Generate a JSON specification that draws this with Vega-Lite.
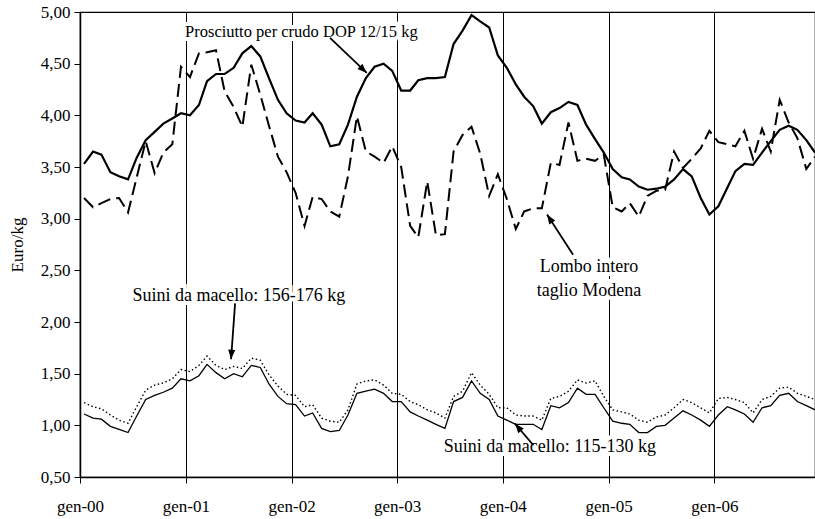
{
  "$schema": "https://vega.github.io/schema/vega-lite/v6.json",
  "width": 735,
  "height": 465,
  "autosize": {"type": "none"},
  "padding": {"left": 80, "top": 12, "right": 0, "bottom": 42},
  "background": "white",
  "view": {"stroke": "black", "strokeWidth": 1.2, "fill": "white"},
  "config": {
    "font": "Liberation Serif",
    "view": {"stroke": "black", "strokeWidth": 1.2},
    "axis": {
      "domainColor": "black", "tickColor": "black", "labelColor": "black", "titleColor": "black",
      "labelFont": "Liberation Serif", "titleFont": "Liberation Serif",
      "labelFontSize": 17, "titleFontSize": 17, "titleFontWeight": "normal",
      "tickSize": 6, "domainWidth": 1.5, "tickWidth": 1
    },
    "axisX": {"grid": true, "gridColor": "black", "gridWidth": 1, "gridOpacity": 1, "labelPadding": 15, "labelFlush": false, "labelOverlap": false},
    "axisY": {"grid": false, "labelPadding": 4, "titlePadding": 14}
  },
  "datasets": {
    "serie": [
      {"mese": "2000-01-15", "prosciutto": 3.53, "lombo": 3.20, "suini156": 1.22, "suini115": 1.11},
      {"mese": "2000-02-15", "prosciutto": 3.65, "lombo": 3.11, "suini156": 1.18, "suini115": 1.07},
      {"mese": "2000-03-15", "prosciutto": 3.62, "lombo": 3.15, "suini156": 1.16, "suini115": 1.06},
      {"mese": "2000-04-15", "prosciutto": 3.45, "lombo": 3.19, "suini156": 1.10, "suini115": 0.99},
      {"mese": "2000-05-15", "prosciutto": 3.41, "lombo": 3.20, "suini156": 1.05, "suini115": 0.96},
      {"mese": "2000-06-15", "prosciutto": 3.38, "lombo": 3.06, "suini156": 1.02, "suini115": 0.93},
      {"mese": "2000-07-15", "prosciutto": 3.59, "lombo": 3.40, "suini156": 1.18, "suini115": 1.09},
      {"mese": "2000-08-15", "prosciutto": 3.76, "lombo": 3.75, "suini156": 1.34, "suini115": 1.25},
      {"mese": "2000-09-15", "prosciutto": 3.84, "lombo": 3.44, "suini156": 1.39, "suini115": 1.29},
      {"mese": "2000-10-15", "prosciutto": 3.92, "lombo": 3.64, "suini156": 1.41, "suini115": 1.32},
      {"mese": "2000-11-15", "prosciutto": 3.97, "lombo": 3.72, "suini156": 1.45, "suini115": 1.36},
      {"mese": "2000-12-15", "prosciutto": 4.02, "lombo": 4.47, "suini156": 1.54, "suini115": 1.45},
      {"mese": "2001-01-15", "prosciutto": 4.00, "lombo": 4.37, "suini156": 1.52, "suini115": 1.43},
      {"mese": "2001-02-15", "prosciutto": 4.10, "lombo": 4.60, "suini156": 1.58, "suini115": 1.48},
      {"mese": "2001-03-15", "prosciutto": 4.33, "lombo": 4.61, "suini156": 1.67, "suini115": 1.59},
      {"mese": "2001-04-15", "prosciutto": 4.40, "lombo": 4.63, "suini156": 1.58, "suini115": 1.51},
      {"mese": "2001-05-15", "prosciutto": 4.40, "lombo": 4.23, "suini156": 1.54, "suini115": 1.45},
      {"mese": "2001-06-15", "prosciutto": 4.46, "lombo": 4.08, "suini156": 1.57, "suini115": 1.50},
      {"mese": "2001-07-15", "prosciutto": 4.60, "lombo": 3.89, "suini156": 1.55, "suini115": 1.47},
      {"mese": "2001-08-15", "prosciutto": 4.67, "lombo": 4.49, "suini156": 1.65, "suini115": 1.58},
      {"mese": "2001-09-15", "prosciutto": 4.57, "lombo": 4.20, "suini156": 1.63, "suini115": 1.56},
      {"mese": "2001-10-15", "prosciutto": 4.36, "lombo": 3.90, "suini156": 1.49, "suini115": 1.40},
      {"mese": "2001-11-15", "prosciutto": 4.15, "lombo": 3.60, "suini156": 1.38, "suini115": 1.28},
      {"mese": "2001-12-15", "prosciutto": 4.02, "lombo": 3.45, "suini156": 1.30, "suini115": 1.21},
      {"mese": "2002-01-15", "prosciutto": 3.95, "lombo": 3.25, "suini156": 1.29, "suini115": 1.20},
      {"mese": "2002-02-15", "prosciutto": 3.93, "lombo": 2.93, "suini156": 1.18, "suini115": 1.09},
      {"mese": "2002-03-15", "prosciutto": 4.02, "lombo": 3.21, "suini156": 1.20, "suini115": 1.12},
      {"mese": "2002-04-15", "prosciutto": 3.91, "lombo": 3.19, "suini156": 1.07, "suini115": 0.97},
      {"mese": "2002-05-15", "prosciutto": 3.70, "lombo": 3.07, "suini156": 1.04, "suini115": 0.94},
      {"mese": "2002-06-15", "prosciutto": 3.72, "lombo": 3.02, "suini156": 1.03, "suini115": 0.95},
      {"mese": "2002-07-15", "prosciutto": 3.91, "lombo": 3.41, "suini156": 1.15, "suini115": 1.10},
      {"mese": "2002-08-15", "prosciutto": 4.18, "lombo": 3.99, "suini156": 1.40, "suini115": 1.31},
      {"mese": "2002-09-15", "prosciutto": 4.36, "lombo": 3.65, "suini156": 1.43, "suini115": 1.33},
      {"mese": "2002-10-15", "prosciutto": 4.47, "lombo": 3.60, "suini156": 1.44, "suini115": 1.35},
      {"mese": "2002-11-15", "prosciutto": 4.50, "lombo": 3.54, "suini156": 1.39, "suini115": 1.31},
      {"mese": "2002-12-15", "prosciutto": 4.43, "lombo": 3.70, "suini156": 1.31, "suini115": 1.23},
      {"mese": "2003-01-15", "prosciutto": 4.24, "lombo": 3.50, "suini156": 1.30, "suini115": 1.23},
      {"mese": "2003-02-15", "prosciutto": 4.24, "lombo": 2.93, "suini156": 1.23, "suini115": 1.13},
      {"mese": "2003-03-15", "prosciutto": 4.34, "lombo": 2.82, "suini156": 1.20, "suini115": 1.09},
      {"mese": "2003-04-15", "prosciutto": 4.36, "lombo": 3.36, "suini156": 1.15, "suini115": 1.05},
      {"mese": "2003-05-15", "prosciutto": 4.36, "lombo": 2.84, "suini156": 1.12, "suini115": 1.01},
      {"mese": "2003-06-15", "prosciutto": 4.37, "lombo": 2.85, "suini156": 1.07, "suini115": 0.97},
      {"mese": "2003-07-15", "prosciutto": 4.69, "lombo": 3.65, "suini156": 1.28, "suini115": 1.23},
      {"mese": "2003-08-15", "prosciutto": 4.82, "lombo": 3.81, "suini156": 1.33, "suini115": 1.27},
      {"mese": "2003-09-15", "prosciutto": 4.97, "lombo": 3.89, "suini156": 1.51, "suini115": 1.43},
      {"mese": "2003-10-15", "prosciutto": 4.91, "lombo": 3.63, "suini156": 1.39, "suini115": 1.31},
      {"mese": "2003-11-15", "prosciutto": 4.85, "lombo": 3.22, "suini156": 1.30, "suini115": 1.25},
      {"mese": "2003-12-15", "prosciutto": 4.58, "lombo": 3.43, "suini156": 1.17, "suini115": 1.09},
      {"mese": "2004-01-15", "prosciutto": 4.46, "lombo": 3.19, "suini156": 1.17, "suini115": 1.05},
      {"mese": "2004-02-15", "prosciutto": 4.30, "lombo": 2.90, "suini156": 1.10, "suini115": 1.01},
      {"mese": "2004-03-15", "prosciutto": 4.18, "lombo": 3.07, "suini156": 1.09, "suini115": 1.01},
      {"mese": "2004-04-15", "prosciutto": 4.09, "lombo": 3.10, "suini156": 1.09, "suini115": 1.01},
      {"mese": "2004-05-15", "prosciutto": 3.92, "lombo": 3.10, "suini156": 1.05, "suini115": 0.96},
      {"mese": "2004-06-15", "prosciutto": 4.03, "lombo": 3.54, "suini156": 1.26, "suini115": 1.19},
      {"mese": "2004-07-15", "prosciutto": 4.07, "lombo": 3.52, "suini156": 1.28, "suini115": 1.17},
      {"mese": "2004-08-15", "prosciutto": 4.13, "lombo": 3.93, "suini156": 1.33, "suini115": 1.22},
      {"mese": "2004-09-15", "prosciutto": 4.10, "lombo": 3.56, "suini156": 1.44, "suini115": 1.36},
      {"mese": "2004-10-15", "prosciutto": 3.91, "lombo": 3.58, "suini156": 1.41, "suini115": 1.30},
      {"mese": "2004-11-15", "prosciutto": 3.77, "lombo": 3.56, "suini156": 1.43, "suini115": 1.30},
      {"mese": "2004-12-15", "prosciutto": 3.64, "lombo": 3.62, "suini156": 1.28, "suini115": 1.17},
      {"mese": "2005-01-15", "prosciutto": 3.48, "lombo": 3.11, "suini156": 1.15, "suini115": 1.04},
      {"mese": "2005-02-15", "prosciutto": 3.40, "lombo": 3.07, "suini156": 1.13, "suini115": 1.02},
      {"mese": "2005-03-15", "prosciutto": 3.38, "lombo": 3.15, "suini156": 1.11, "suini115": 1.01},
      {"mese": "2005-04-15", "prosciutto": 3.31, "lombo": 3.02, "suini156": 1.05, "suini115": 0.93},
      {"mese": "2005-05-15", "prosciutto": 3.28, "lombo": 3.22, "suini156": 1.03, "suini115": 0.93},
      {"mese": "2005-06-15", "prosciutto": 3.29, "lombo": 3.27, "suini156": 1.08, "suini115": 0.99},
      {"mese": "2005-07-15", "prosciutto": 3.31, "lombo": 3.28, "suini156": 1.10, "suini115": 1.00},
      {"mese": "2005-08-15", "prosciutto": 3.38, "lombo": 3.65, "suini156": 1.17, "suini115": 1.07},
      {"mese": "2005-09-15", "prosciutto": 3.48, "lombo": 3.49, "suini156": 1.25, "suini115": 1.14},
      {"mese": "2005-10-15", "prosciutto": 3.41, "lombo": 3.58, "suini156": 1.22, "suini115": 1.10},
      {"mese": "2005-11-15", "prosciutto": 3.20, "lombo": 3.68, "suini156": 1.17, "suini115": 1.05},
      {"mese": "2005-12-15", "prosciutto": 3.04, "lombo": 3.85, "suini156": 1.12, "suini115": 0.99},
      {"mese": "2006-01-15", "prosciutto": 3.12, "lombo": 3.74, "suini156": 1.26, "suini115": 1.10},
      {"mese": "2006-02-15", "prosciutto": 3.30, "lombo": 3.72, "suini156": 1.27, "suini115": 1.18},
      {"mese": "2006-03-15", "prosciutto": 3.46, "lombo": 3.70, "suini156": 1.25, "suini115": 1.15},
      {"mese": "2006-04-15", "prosciutto": 3.53, "lombo": 3.85, "suini156": 1.22, "suini115": 1.11},
      {"mese": "2006-05-15", "prosciutto": 3.52, "lombo": 3.58, "suini156": 1.12, "suini115": 1.03},
      {"mese": "2006-06-15", "prosciutto": 3.64, "lombo": 3.87, "suini156": 1.25, "suini115": 1.17},
      {"mese": "2006-07-15", "prosciutto": 3.75, "lombo": 3.65, "suini156": 1.28, "suini115": 1.19},
      {"mese": "2006-08-15", "prosciutto": 3.86, "lombo": 4.15, "suini156": 1.36, "suini115": 1.29},
      {"mese": "2006-09-15", "prosciutto": 3.90, "lombo": 3.93, "suini156": 1.37, "suini115": 1.31},
      {"mese": "2006-10-15", "prosciutto": 3.86, "lombo": 3.78, "suini156": 1.31, "suini115": 1.23},
      {"mese": "2006-11-15", "prosciutto": 3.76, "lombo": 3.48, "suini156": 1.28, "suini115": 1.19},
      {"mese": "2006-12-15", "prosciutto": 3.64, "lombo": 3.60, "suini156": 1.25, "suini115": 1.15}
    ],
    "note": [
      {"mese": "2002-02-04", "v": 4.81, "testo": "Prosciutto per crudo DOP 12/15 kg"},
      {"mese": "2004-10-25", "v": 2.53, "testo": "Lombo intero"},
      {"mese": "2004-10-25", "v": 2.30, "testo": "taglio Modena"},
      {"mese": "2001-07-03", "v": 2.25, "testo": "Suini da macello: 156-176 kg"},
      {"mese": "2004-06-12", "v": 0.79, "testo": "Suini da macello: 115-130 kg"}
    ],
    "frecce": [
      {"freccia": "prosciutto", "mese": "2002-05-14", "v": 4.75, "mese2": "2002-09-18", "v2": 4.41},
      {"freccia": "lombo", "mese": "2004-08-31", "v": 2.65, "mese2": "2004-06-02", "v2": 3.04},
      {"freccia": "suini156", "mese": "2001-06-20", "v": 2.18, "mese2": "2001-06-06", "v2": 1.64},
      {"freccia": "suini115", "mese": "2004-04-16", "v": 0.807, "mese2": "2004-02-12", "v2": 1.017}
    ]
  },
  "data": {"name": "serie"},
  "encoding": {
    "x": {
      "field": "mese", "type": "temporal",
      "scale": {"type": "utc", "domain": [{"year": 2000, "month": 1, "date": 1, "utc": true}, {"year": 2006, "month": 12, "date": 15, "utc": true}]},
      "axis": {
        "title": null,
        "values": [
          {"year": 2000, "month": 1, "date": 1, "utc": true},
          {"year": 2001, "month": 1, "date": 1, "utc": true},
          {"year": 2002, "month": 1, "date": 1, "utc": true},
          {"year": 2003, "month": 1, "date": 1, "utc": true},
          {"year": 2004, "month": 1, "date": 1, "utc": true},
          {"year": 2005, "month": 1, "date": 1, "utc": true},
          {"year": 2006, "month": 1, "date": 1, "utc": true}
        ],
        "labelExpr": "'gen-' + utcFormat(datum.value, '%y')"
      }
    }
  },
  "layer": [
    {
      "mark": {"type": "line", "color": "black", "strokeWidth": 1.3},
      "encoding": {
        "y": {
          "field": "suini115", "type": "quantitative", "title": "Euro/kg",
          "scale": {"domain": [0.5, 5]},
          "axis": {"title": "Euro/kg", "values": [0.5, 1, 1.5, 2, 2.5, 3, 3.5, 4, 4.5, 5], "labelExpr": "replace(format(datum.value, '.2f'), '.', ',')"}
        }
      }
    },
    {
      "mark": {"type": "line", "color": "black", "strokeWidth": 1.4, "strokeDash": [1.5, 2.5]},
      "encoding": {"y": {"field": "suini156", "type": "quantitative", "title": "Euro/kg", "scale": {"domain": [0.5, 5]},
        "axis": {"title": "Euro/kg", "values": [0.5, 1, 1.5, 2, 2.5, 3, 3.5, 4, 4.5, 5], "labelExpr": "replace(format(datum.value, '.2f'), '.', ',')"}}}
    },
    {
      "mark": {"type": "line", "color": "black", "strokeWidth": 2, "strokeDash": [13, 6]},
      "encoding": {"y": {"field": "lombo", "type": "quantitative", "title": "Euro/kg", "scale": {"domain": [0.5, 5]},
        "axis": {"title": "Euro/kg", "values": [0.5, 1, 1.5, 2, 2.5, 3, 3.5, 4, 4.5, 5], "labelExpr": "replace(format(datum.value, '.2f'), '.', ',')"}}}
    },
    {
      "mark": {"type": "line", "color": "black", "strokeWidth": 2.2},
      "encoding": {"y": {"field": "prosciutto", "type": "quantitative", "title": "Euro/kg", "scale": {"domain": [0.5, 5]},
        "axis": {"title": "Euro/kg", "values": [0.5, 1, 1.5, 2, 2.5, 3, 3.5, 4, 4.5, 5], "labelExpr": "replace(format(datum.value, '.2f'), '.', ',')"}}}
    },
    {
      "data": {"name": "note", "format": {"parse": {"mese": "date"}}},
      "transform": [{"filter": "datum.testo !== 'Prosciutto per crudo DOP 12/15 kg'"}],
      "mark": {"type": "text", "font": "Liberation Serif", "fontSize": 18, "align": "center", "baseline": "middle", "stroke": "white", "strokeWidth": 8, "fill": "white"},
      "encoding": {"y": {"field": "v", "type": "quantitative", "title": "Euro/kg", "scale": {"domain": [0.5, 5]},
        "axis": {"title": "Euro/kg", "values": [0.5, 1, 1.5, 2, 2.5, 3, 3.5, 4, 4.5, 5], "labelExpr": "replace(format(datum.value, '.2f'), '.', ',')"}}, "text": {"field": "testo"}}
    },
    {
      "data": {"name": "note", "format": {"parse": {"mese": "date"}}},
      "transform": [{"filter": "datum.testo === 'Prosciutto per crudo DOP 12/15 kg'"}],
      "mark": {"type": "text", "font": "Liberation Serif", "fontSize": 16.5, "align": "center", "baseline": "middle", "stroke": "white", "strokeWidth": 8, "fill": "white"},
      "encoding": {"y": {"field": "v", "type": "quantitative", "title": "Euro/kg", "scale": {"domain": [0.5, 5]},
        "axis": {"title": "Euro/kg", "values": [0.5, 1, 1.5, 2, 2.5, 3, 3.5, 4, 4.5, 5], "labelExpr": "replace(format(datum.value, '.2f'), '.', ',')"}}, "text": {"field": "testo"}}
    },
    {
      "data": {"name": "note", "format": {"parse": {"mese": "date"}}},
      "transform": [{"filter": "datum.testo !== 'Prosciutto per crudo DOP 12/15 kg'"}],
      "mark": {"type": "text", "font": "Liberation Serif", "fontSize": 18, "align": "center", "baseline": "middle", "fill": "black"},
      "encoding": {"y": {"field": "v", "type": "quantitative", "title": "Euro/kg", "scale": {"domain": [0.5, 5]},
        "axis": {"title": "Euro/kg", "values": [0.5, 1, 1.5, 2, 2.5, 3, 3.5, 4, 4.5, 5], "labelExpr": "replace(format(datum.value, '.2f'), '.', ',')"}}, "text": {"field": "testo"}}
    },
    {
      "data": {"name": "note", "format": {"parse": {"mese": "date"}}},
      "transform": [{"filter": "datum.testo === 'Prosciutto per crudo DOP 12/15 kg'"}],
      "mark": {"type": "text", "font": "Liberation Serif", "fontSize": 16.5, "align": "center", "baseline": "middle", "fill": "black"},
      "encoding": {"y": {"field": "v", "type": "quantitative", "title": "Euro/kg", "scale": {"domain": [0.5, 5]},
        "axis": {"title": "Euro/kg", "values": [0.5, 1, 1.5, 2, 2.5, 3, 3.5, 4, 4.5, 5], "labelExpr": "replace(format(datum.value, '.2f'), '.', ',')"}}, "text": {"field": "testo"}}
    },
    {
      "data": {"name": "frecce", "format": {"parse": {"mese": "date", "mese2": "date"}}},
      "mark": {"type": "rule", "color": "black", "strokeWidth": 1.8},
      "encoding": {
        "x2": {"field": "mese2"},
        "y": {"field": "v", "type": "quantitative", "title": "Euro/kg", "scale": {"domain": [0.5, 5]},
          "axis": {"title": "Euro/kg", "values": [0.5, 1, 1.5, 2, 2.5, 3, 3.5, 4, 4.5, 5], "labelExpr": "replace(format(datum.value, '.2f'), '.', ',')"}},
        "y2": {"field": "v2"}
      }
    },
    {
      "data": {"name": "frecce", "format": {"parse": {"mese": "date", "mese2": "date"}}},
      "transform": [{"filter": "datum.freccia === 'prosciutto'"}],
      "mark": {"type": "point", "shape": "M0,0 L-0.75,2 L0.75,2 Z", "filled": true, "color": "black", "opacity": 1, "size": 90, "angle": 134},
      "encoding": {"x": {"field": "mese2", "type": "temporal"}, "y": {"field": "v2", "type": "quantitative", "title": "Euro/kg", "scale": {"domain": [0.5, 5]},
        "axis": {"title": "Euro/kg", "values": [0.5, 1, 1.5, 2, 2.5, 3, 3.5, 4, 4.5, 5], "labelExpr": "replace(format(datum.value, '.2f'), '.', ',')"}}}
    },
    {
      "data": {"name": "frecce", "format": {"parse": {"mese": "date", "mese2": "date"}}},
      "transform": [{"filter": "datum.freccia === 'lombo'"}],
      "mark": {"type": "point", "shape": "M0,0 L-0.75,2 L0.75,2 Z", "filled": true, "color": "black", "opacity": 1, "size": 90, "angle": 327},
      "encoding": {"x": {"field": "mese2", "type": "temporal"}, "y": {"field": "v2", "type": "quantitative", "title": "Euro/kg", "scale": {"domain": [0.5, 5]},
        "axis": {"title": "Euro/kg", "values": [0.5, 1, 1.5, 2, 2.5, 3, 3.5, 4, 4.5, 5], "labelExpr": "replace(format(datum.value, '.2f'), '.', ',')"}}}
    },
    {
      "data": {"name": "frecce", "format": {"parse": {"mese": "date", "mese2": "date"}}},
      "transform": [{"filter": "datum.freccia === 'suini156'"}],
      "mark": {"type": "point", "shape": "M0,0 L-0.75,2 L0.75,2 Z", "filled": true, "color": "black", "opacity": 1, "size": 90, "angle": 184},
      "encoding": {"x": {"field": "mese2", "type": "temporal"}, "y": {"field": "v2", "type": "quantitative", "title": "Euro/kg", "scale": {"domain": [0.5, 5]},
        "axis": {"title": "Euro/kg", "values": [0.5, 1, 1.5, 2, 2.5, 3, 3.5, 4, 4.5, 5], "labelExpr": "replace(format(datum.value, '.2f'), '.', ',')"}}}
    },
    {
      "data": {"name": "frecce", "format": {"parse": {"mese": "date", "mese2": "date"}}},
      "transform": [{"filter": "datum.freccia === 'suini115'"}],
      "mark": {"type": "point", "shape": "M0,0 L-0.75,2 L0.75,2 Z", "filled": true, "color": "black", "opacity": 1, "size": 90, "angle": 320},
      "encoding": {"x": {"field": "mese2", "type": "temporal"}, "y": {"field": "v2", "type": "quantitative", "title": "Euro/kg", "scale": {"domain": [0.5, 5]},
        "axis": {"title": "Euro/kg", "values": [0.5, 1, 1.5, 2, 2.5, 3, 3.5, 4, 4.5, 5], "labelExpr": "replace(format(datum.value, '.2f'), '.', ',')"}}}
    }
  ]
}
